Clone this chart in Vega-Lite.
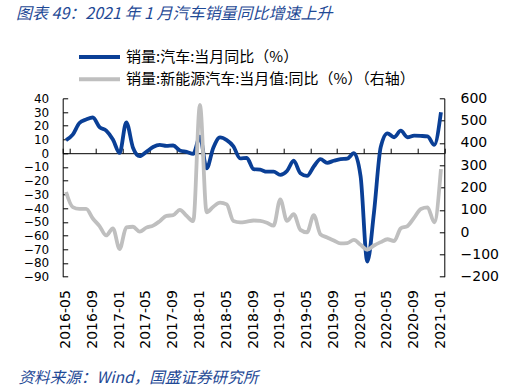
{
  "$schema": "https://vega.github.io/schema/vega-lite/v6.json",
  "width": 381.6,
  "height": 178.4,
  "autosize": {"type": "none"},
  "padding": {"left": 62.7, "top": 98.3, "right": 74.7, "bottom": 110.3},
  "background": "white",
  "title": {
    "text": "图表 49：2021 年 1 月汽车销量同比增速上升",
    "anchor": "start",
    "frame": "group",
    "dx": -46.7,
    "dy": -8,
    "font": "Noto Sans CJK SC",
    "fontSize": 16,
    "fontStyle": "italic",
    "fontWeight": "normal",
    "color": "#1F4A96"
  },
  "config": {
    "view": {"stroke": null},
    "axis": {
      "grid": false,
      "labelFont": "DejaVu Sans",
      "labelFontSize": 14,
      "labelColor": "#000000",
      "labelOverlap": false,
      "domainColor": "#000000",
      "tickColor": "#000000",
      "domainWidth": 1,
      "tickWidth": 1
    }
  },
  "data": {
    "values": [
      {"month": "2016-05", "auto": 9.5, "nev": 180},
      {"month": "2016-06", "auto": 13.5, "nev": 112},
      {"month": "2016-07", "auto": 22, "nev": 104},
      {"month": "2016-08", "auto": 24.5, "nev": 104},
      {"month": "2016-09", "auto": 26, "nev": 61},
      {"month": "2016-10", "auto": 19, "nev": 27},
      {"month": "2016-11", "auto": 16.5, "nev": -15},
      {"month": "2016-12", "auto": 10, "nev": 17},
      {"month": "2017-01", "auto": 0.2, "nev": -76},
      {"month": "2017-02", "auto": 22.5, "nev": 21},
      {"month": "2017-03", "auto": 4, "nev": 24},
      {"month": "2017-04", "auto": -2.2, "nev": 2},
      {"month": "2017-05", "auto": 1, "nev": 20},
      {"month": "2017-06", "auto": 4.5, "nev": 29},
      {"month": "2017-07", "auto": 6, "nev": 49},
      {"month": "2017-08", "auto": 5.3, "nev": 73},
      {"month": "2017-09", "auto": 5.6, "nev": 76},
      {"month": "2017-10", "auto": 2, "nev": 100},
      {"month": "2017-11", "auto": 1, "nev": 73},
      {"month": "2017-12", "auto": -0.5, "nev": 49},
      {"month": "2018-01", "auto": 12, "nev": 570},
      {"month": "2018-02", "auto": -11, "nev": 89},
      {"month": "2018-03", "auto": 4, "nev": 114},
      {"month": "2018-04", "auto": 11.5, "nev": 132},
      {"month": "2018-05", "auto": 9.5, "nev": 124},
      {"month": "2018-06", "auto": 5, "nev": 50},
      {"month": "2018-07", "auto": -3.8, "nev": 44},
      {"month": "2018-08", "auto": -3.5, "nev": 47},
      {"month": "2018-09", "auto": -11.6, "nev": 52},
      {"month": "2018-10", "auto": -12, "nev": 50},
      {"month": "2018-11", "auto": -13.5, "nev": 42},
      {"month": "2018-12", "auto": -13.5, "nev": 29},
      {"month": "2019-01", "auto": -15.8, "nev": 147},
      {"month": "2019-02", "auto": -13, "nev": 50},
      {"month": "2019-03", "auto": -5.5, "nev": 81},
      {"month": "2019-04", "auto": -14.6, "nev": 10},
      {"month": "2019-05", "auto": -16.5, "nev": -1},
      {"month": "2019-06", "auto": -9.7, "nev": 76},
      {"month": "2019-07", "auto": -4.3, "nev": -10},
      {"month": "2019-08", "auto": -7, "nev": -24},
      {"month": "2019-09", "auto": -5.5, "nev": -38},
      {"month": "2019-10", "auto": -4.3, "nev": -51},
      {"month": "2019-11", "auto": -4, "nev": -49},
      {"month": "2019-12", "auto": 0, "nev": -35},
      {"month": "2020-01", "auto": -17, "nev": -57},
      {"month": "2020-02", "auto": -79, "nev": -79},
      {"month": "2020-03", "auto": -43, "nev": -60},
      {"month": "2020-04", "auto": 4.4, "nev": -45},
      {"month": "2020-05", "auto": 14.5, "nev": -32},
      {"month": "2020-06", "auto": 11.6, "nev": -40},
      {"month": "2020-07", "auto": 16.4, "nev": 17},
      {"month": "2020-08", "auto": 11.6, "nev": 27},
      {"month": "2020-09", "auto": 12.8, "nev": 65},
      {"month": "2020-10", "auto": 12.6, "nev": 104},
      {"month": "2020-11", "auto": 12.2, "nev": 111},
      {"month": "2020-12", "auto": 6, "nev": 44},
      {"month": "2021-01", "auto": 29.8, "nev": 282}
    ]
  },
  "layer": [
    {
      "mark": {"type": "line", "strokeWidth": 3.8, "interpolate": "monotone"},
      "encoding": {
        "x": {
          "field": "month",
          "type": "ordinal",
          "bandPosition": 0.5,
          "scale": {"type": "band", "paddingInner": 0, "paddingOuter": 0},
          "axis": {
            "orient": "bottom",
            "values": ["2016-05","2016-09","2017-01","2017-05","2017-09","2018-01","2018-05","2018-09","2019-01","2019-05","2019-09","2020-01","2020-05","2020-09","2021-01"],
            "labelAngle": 270,
            "labelAlign": "right",
            "labelBaseline": "middle",
            "ticks": false,
            "domain": false,
            "labelPadding": 13,
            "title": "资料来源：Wind，国盛证券研究所",
            "titleX": -44.7,
            "titleY": 101,
            "titleAlign": "left",
            "titleAnchor": "start",
            "titleBaseline": "middle",
            "titleFont": "Noto Sans CJK SC",
            "titleFontSize": 15.6,
            "titleFontStyle": "italic",
            "titleFontWeight": "normal",
            "titleColor": "#1F4A96"
          }
        },
        "y": {
          "field": "auto",
          "type": "quantitative",
          "scale": {"domain": [-90, 40], "nice": false, "zero": false},
          "axis": {
            "orient": "left",
            "values": [-90,-80,-70,-60,-50,-40,-30,-20,-10,0,10,20,30,40],
            "tickSize": -5,
            "labelPadding": 19,
            "labelFontSize": 12,
            "title": null
          }
        },
        "color": {
          "datum": "销量:汽车:当月同比（%）",
          "scale": {"range": ["#0A3F96"]},
          "legend": {
            "orient": "none",
            "legendX": 14.3,
            "legendY": -63.9,
            "symbolType": "stroke",
            "symbolSize": 1681,
            "symbolStrokeWidth": 4,
            "labelFont": "Noto Sans CJK SC",
            "labelFontSize": 15,
            "labelColor": "#000000",
            "labelOffset": 4,
            "labelLimit": 500,
            "title": null
          }
        }
      }
    },
    {
      "mark": {"type": "line", "strokeWidth": 3.8, "interpolate": "monotone"},
      "encoding": {
        "x": {
          "field": "month",
          "type": "ordinal",
          "bandPosition": 0.5,
          "scale": {"type": "band", "paddingInner": 0, "paddingOuter": 0},
          "axis": {
            "orient": "top",
            "offset": -54.9,
            "values": ["2016-05","2016-09","2017-01","2017-05","2017-09","2018-01","2018-05","2018-09","2019-01","2019-05","2019-09","2020-01","2020-05","2020-09","2021-01"],
            "labels": false,
            "ticks": true,
            "tickSize": 5,
            "tickBand": "extent",
            "domain": true,
            "title": null
          }
        },
        "y": {
          "field": "nev",
          "type": "quantitative",
          "scale": {"domain": [-200, 600], "nice": false, "zero": false},
          "axis": {
            "orient": "right",
            "values": [-200,-100,0,100,200,300,400,500,600],
            "tickSize": -5,
            "labelPadding": 20.7,
            "title": null
          }
        },
        "color": {
          "datum": "销量:新能源汽车:当月值:同比（%）（右轴）",
          "scale": {"range": ["#BFBFBF"]},
          "legend": {
            "orient": "none",
            "legendX": 14.3,
            "legendY": -41.5,
            "symbolType": "stroke",
            "symbolSize": 1681,
            "symbolStrokeWidth": 4,
            "labelFont": "Noto Sans CJK SC",
            "labelFontSize": 15,
            "labelColor": "#000000",
            "labelOffset": 4,
            "labelLimit": 500,
            "title": null
          }
        }
      }
    }
  ],
  "resolve": {
    "scale": {"y": "independent", "color": "independent"},
    "axis": {"x": "independent", "y": "independent"}
  }
}
